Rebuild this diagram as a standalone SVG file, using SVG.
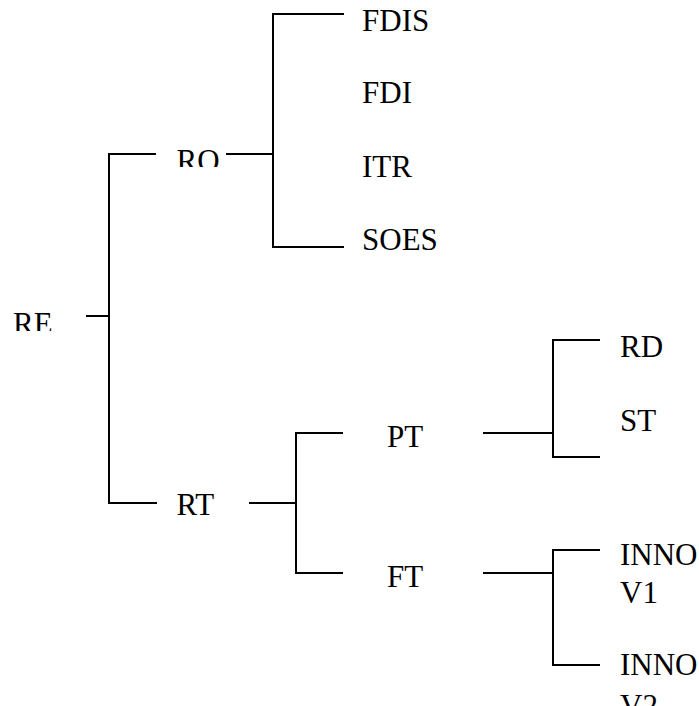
<svg xmlns="http://www.w3.org/2000/svg" width="699" height="706" viewBox="0 0 699 706">
<style>
  .c { stroke: #000; stroke-width: 2; fill: none; }
  text { font-family: 'Liberation Serif', 'Tinos', 'DejaVu Serif', 'Times New Roman', Times, serif; font-size: 31px; fill: #000; }
</style>
<defs>
  <clipPath id="clipRE"><rect x="0" y="290" width="80" height="41"/></clipPath>
  <clipPath id="clipRO"><rect x="160" y="130" width="64" height="37"/></clipPath>
</defs>
<rect width="699" height="706" fill="#fff"/>
<g id="connectors">
  <path class="c" d="M86 316H109"/>
  <path class="c" d="M156 154H109V503H157"/>
  <path class="c" d="M226 154H273"/>
  <path class="c" d="M344 14H273V247H344"/>
  <path class="c" d="M249 503H296"/>
  <path class="c" d="M343 433H296V573H343"/>
  <path class="c" d="M483 433H553"/>
  <path class="c" d="M600 340H553V457H600"/>
  <path class="c" d="M483 573H553"/>
  <path class="c" d="M600 550H553V665H600"/>
</g>
<g id="RE"><text font-family="Liberation Serif" x="13" y="334" clip-path="url(#clipRE)">RE</text></g>
<g id="RO"><text font-family="Liberation Serif" x="176.5" y="171" clip-path="url(#clipRO)">RO</text></g>
<g id="RT"><text font-family="Liberation Serif" x="176.5" y="515">RT</text></g>
<g id="FDIS"><text font-family="Liberation Serif" x="362" y="30.5">FDIS</text></g>
<g id="FDI"><text font-family="Liberation Serif" x="362" y="102.5">FDI</text></g>
<g id="ITR"><text font-family="Liberation Serif" x="362" y="176.5">ITR</text></g>
<g id="SOES"><text font-family="Liberation Serif" x="362" y="249.5">SOES</text></g>
<g id="PT"><text font-family="Liberation Serif" x="387" y="447">PT</text></g>
<g id="FT"><text font-family="Liberation Serif" x="387" y="587">FT</text></g>
<g id="RD"><text font-family="Liberation Serif" x="620" y="356.5">RD</text></g>
<g id="ST"><text font-family="Liberation Serif" x="620" y="430.5">ST</text></g>
<g id="INNOV1"><text font-family="Liberation Serif" x="620" y="565">INNO</text><text font-family="Liberation Serif" x="620" y="603">V1</text></g>
<g id="INNOV2"><text font-family="Liberation Serif" x="620" y="675">INNO</text><text font-family="Liberation Serif" x="620" y="716">V2</text></g>
</svg>
